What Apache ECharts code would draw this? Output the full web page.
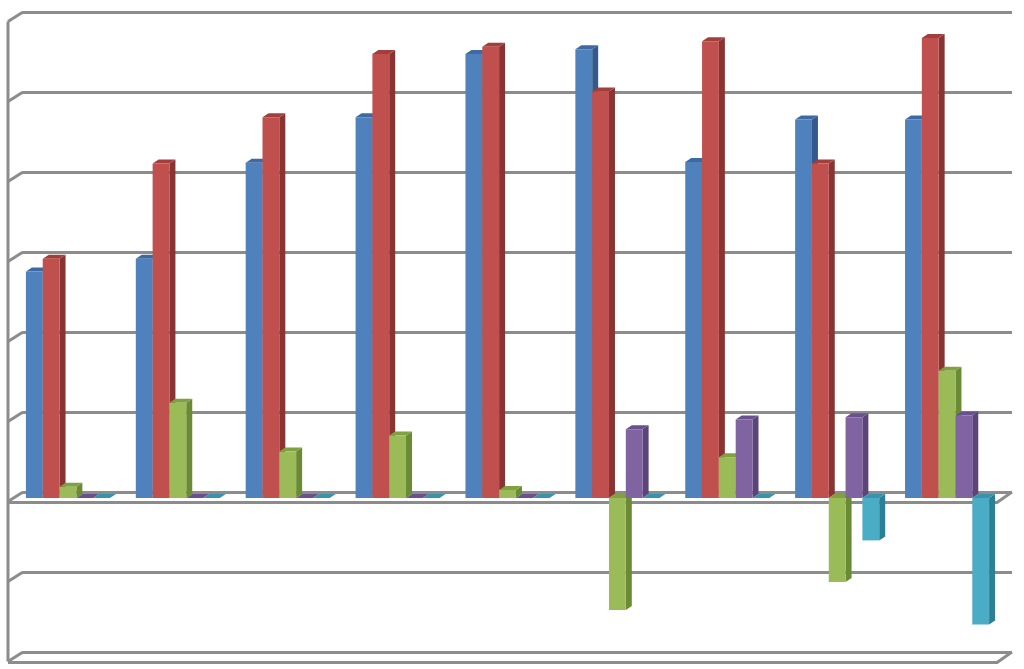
<!DOCTYPE html>
<html>
<head>
<meta charset="utf-8">
<script src="https://cdn.jsdelivr.net/npm/echarts@6/dist/echarts.min.js"></script>
<style>
  html, body { margin: 0; padding: 0; background: #fff; }
  #chart { width: 1024px; height: 669px; }
</style>
</head>
<body>
<div id="chart"></div>
<script>
// categories have no visible labels in the picture
var categories = ['1', '2', '3', '4', '5', '6', '7', '8', '9'];
var yTicks = [-2, -1, 0, 1, 2, 3, 4, 5, 6];

var blueVals   = [2.83, 2.99, 4.19, 4.76, 5.55, 5.61, 4.20, 4.73, 4.73];
var redVals    = [2.99, 4.18, 4.76, 5.55, 5.64, 5.08, 5.71, 4.18, 5.75];
var greenVals  = [0.14, 1.19, 0.58, 0.78, 0.10, -1.40, 0.51, -1.05, 1.59];
var purpleVals = [0, 0, 0, 0, 0, 0.86, 0.98, 1.01, 1.03];
var cyanVals   = [0, 0, 0, 0, 0, 0, 0, -0.53, -1.58];

var seriesList = [
    {name: 'Series 1', data: blueVals,   front: '#4f81bd', side: '#34598a', top: '#3e6aa3'},
    {name: 'Series 2', data: redVals,    front: '#c0504d', side: '#883432', top: '#a23f3c'},
    {name: 'Series 3', data: greenVals,  front: '#9bbb59', side: '#6b8a35', top: '#80a042'},
    {name: 'Series 4', data: purpleVals, front: '#8064a2', side: '#5a4478', top: '#6a508c'},
    {name: 'Series 5', data: cyanVals,   front: '#4bacc6', side: '#2d7f96', top: '#3893ad'}
];

var gridColor = '#8c8c8c';
var depthX = -15, depthY = 9.5;   // back wall -> front edge
var barDX = 6, barDY = -4;        // bar side depth

function barRenderer(si, s) {
    return function (params, api) {
        var k = api.value(0), v = api.value(1);
        var band = api.size([1, 0])[0];
        var bw = band * 0.153;
        var c = api.coord([k, 0]);
        var t = api.coord([k, v]);
        var x0 = c[0] - 10 - 2.5 * bw + si * bw;
        var yb = c[1] + 6, yt = t[1] + 6;
        var top = Math.min(yb, yt), bot = Math.max(yb, yt);
        var x1 = x0 + bw;
        return {
            type: 'group',
            children: [
                {type: 'polygon', shape: {points: [[x1, top], [x1 + barDX, top + barDY], [x1 + barDX, bot + barDY], [x1, bot]]},
                    style: {fill: s.side}},
                {type: 'polygon', shape: {points: [[x0, top], [x0 + barDX, top + barDY], [x1 + barDX, top + barDY], [x1, top]]},
                    style: {fill: s.top}},
                {type: 'rect', shape: {x: x0, y: top, width: bw, height: bot - top},
                    style: {fill: s.front}}
            ]
        };
    };
}

function frameRenderer(params, api) {
    var cs = params.coordSys;
    var x = cs.x, w = cs.width;
    var lineStyle = {stroke: gridColor, lineWidth: 3, fill: null};
    var kids = [];
    var yTop = api.coord([0, yTicks[yTicks.length - 1]])[1];
    var yBot = api.coord([0, yTicks[0]])[1];
    var yZero = api.coord([0, 0])[1];
    kids.push({type: 'line', shape: {x1: x + depthX, y1: yTop + depthY, x2: x + depthX, y2: yBot + depthY}, style: lineStyle});
    yTicks.forEach(function (t) {
        var yy = api.coord([0, t])[1];
        kids.push({type: 'line', shape: {x1: x, y1: yy, x2: x + depthX, y2: yy + depthY}, style: lineStyle});
    });
    [yZero, yBot].forEach(function (yy) {
        kids.push({type: 'polyline', shape: {points: [[x + depthX, yy + depthY + 1], [x + w + depthX, yy + depthY + 1], [x + w, yy]]},
            style: lineStyle});
    });
    return {type: 'group', children: kids};
}

var chart = echarts.init(document.getElementById('chart'));

var series = [{
    type: 'custom',
    name: 'frame',
    z: 1,
    silent: true,
    clip: false,
    renderItem: frameRenderer,
    data: [[0, 0]]
}];
seriesList.forEach(function (s, i) {
    series.push({
        type: 'custom',
        name: s.name,
        z: 2 + i,
        clip: false,
        renderItem: barRenderer(i, s),
        encode: {x: 0, y: 1},
        data: s.data.map(function (v, k) { return [k, v]; })
    });
});

chart.setOption({
    animation: false,
    backgroundColor: '#fff',
    grid: {left: 23, right: 12, top: 12, bottom: 17},
    xAxis: {
        type: 'category',
        data: categories,
        axisLine: {show: false},
        axisTick: {show: false},
        axisLabel: {show: false}
    },
    yAxis: {
        type: 'value',
        min: -2,
        max: 6,
        interval: 1,
        axisLine: {show: false},
        axisTick: {show: false},
        axisLabel: {show: false},
        splitLine: {show: true, lineStyle: {color: gridColor, width: 3}}
    },
    series: series
});
</script>
</body>
</html>
